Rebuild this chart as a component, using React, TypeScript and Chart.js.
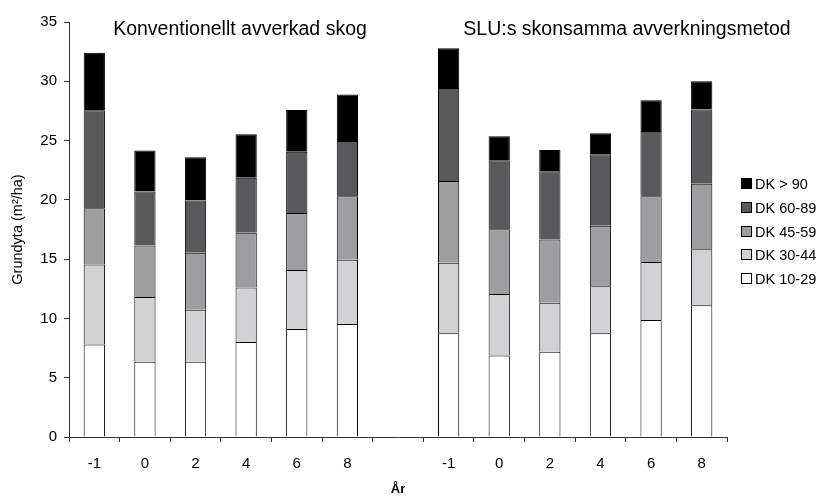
import React, { useEffect, useRef } from "react";
import { Chart, registerables } from "chart.js";

Chart.register(...registerables);

const categories = ["-1", "0", "2", "4", "6", "8", "", "-1", "0", "2", "4", "6", "8"];
const groupTitles = ["Konventionellt avverkad skog", "SLU:s skonsamma avverkningsmetod"];
const seriesNames = ["DK 10-29", "DK 30-44", "DK 45-59", "DK 60-89", "DK > 90"];
const seriesColors = ["#ffffff", "#d2d2d4", "#9e9ea0", "#59595b", "#000000"];

const dk10_29 = [7.8, 6.34, 6.34, 8.02, 9.1, 9.53, null, 8.74, 6.88, 7.19, 8.76, 9.86, 11.12];
const dk30_44 = [6.75, 5.46, 4.39, 4.58, 4.98, 5.41, null, 5.95, 5.17, 4.13, 3.96, 4.89, 4.72];
const dk45_59 = [4.75, 4.35, 4.8, 4.63, 4.82, 5.36, null, 6.91, 5.48, 5.34, 5.09, 5.56, 5.51];
const dk60_89 = [8.25, 4.55, 4.41, 4.64, 5.15, 4.67, null, 7.84, 5.81, 5.76, 6.04, 5.5, 6.26];
const dk90 = [4.85, 3.46, 3.66, 3.66, 3.52, 3.91, null, 3.34, 2.03, 1.79, 1.77, 2.59, 2.39];

const seriesValues = [dk10_29, dk30_44, dk45_59, dk60_89, dk90];

const FONT = "'Liberation Sans', Arial, Helvetica, sans-serif";

const overlayPlugin = {
  id: "overlay",
  afterDraw(chart: any) {
    const ctx = chart.ctx;
    ctx.save();
    // group titles
    ctx.fillStyle = "#000";
    ctx.font = `19.5px ${FONT}`;
    ctx.textBaseline = "middle";
    ctx.textAlign = "center";
    ctx.fillText(groupTitles[0], 240, 30);
    ctx.fillText(groupTitles[1], 627, 30);
    // legend (reversed order)
    ctx.font = `14.5px ${FONT}`;
    ctx.textAlign = "left";
    const n = seriesNames.length;
    for (let i = 0; i < n; i++) {
      const idx = n - 1 - i;
      const y = Math.round(184 + i * 23.75);
      ctx.fillStyle = seriesColors[idx];
      ctx.fillRect(741.5, y - 5.5, 10, 10);
      ctx.strokeStyle = "#000";
      ctx.lineWidth = 1;
      ctx.strokeRect(741.5, y - 5.5, 10, 10);
      ctx.fillStyle = "#000";
      ctx.fillText(seriesNames[idx], 755, y + 0.5);
    }
    ctx.restore();
  },
};

export default function App() {
  const ref = useRef<HTMLCanvasElement | null>(null);
  useEffect(() => {
    if (!ref.current) return;
    const chart = new Chart(ref.current, {
      type: "bar",
      data: {
        labels: categories,
        datasets: seriesValues.map((vals, i) => ({
          label: seriesNames[i],
          data: vals,
          backgroundColor: seriesColors[i],
          borderColor: "#000",
          borderWidth: 1,
          barPercentage: 0.42,
          categoryPercentage: 1,
        })),
      },
      options: {
        animation: false,
        responsive: false,
        maintainAspectRatio: false,
        layout: { padding: { top: 22, right: 99, left: 0, bottom: 0 } },
        plugins: {
          legend: { display: false },
          tooltip: { enabled: false },
        },
        scales: {
          x: {
            stacked: true,
            grid: {
              display: true,
              drawOnChartArea: false,
              drawTicks: true,
              tickLength: 5,
              color: "#333",
              offset: true,
            },
            border: { display: true, color: "#333", width: 1 },
            ticks: {
              color: "#000",
              font: { family: FONT, size: 15 },
              padding: 13,
              maxRotation: 0,
              autoSkip: false,
            },
            title: {
              display: true,
              text: "År",
              color: "#000",
              font: { family: FONT, size: 13, weight: "bold" },
              padding: { top: 0, bottom: 1 },
            },
            afterFit(scale: any) {
              scale.height = 61;
            },
          },
          y: {
            stacked: true,
            min: 0,
            max: 35,
            grid: {
              display: true,
              drawOnChartArea: false,
              drawTicks: true,
              tickLength: 5,
              color: "#333",
            },
            border: { display: true, color: "#333", width: 1 },
            ticks: {
              stepSize: 5,
              color: "#000",
              font: { family: FONT, size: 15 },
              padding: 7,
            },
            title: {
              display: true,
              text: "Grundyta (m²/ha)",
              color: "#000",
              font: { family: FONT, size: 14.5 },
              padding: { top: 9, bottom: 0 },
            },
            afterFit(scale: any) {
              scale.width = 69;
            },
          },
        },
      },
      plugins: [overlayPlugin],
    });
    return () => chart.destroy();
  }, []);
  return (
    <div style={{ position: "fixed", left: 0, top: 0, width: 826, height: 498, background: "#fff" }}>
      <canvas ref={ref} width={826} height={498} style={{ display: "block", width: 826, height: 498 }} />
    </div>
  );
}
